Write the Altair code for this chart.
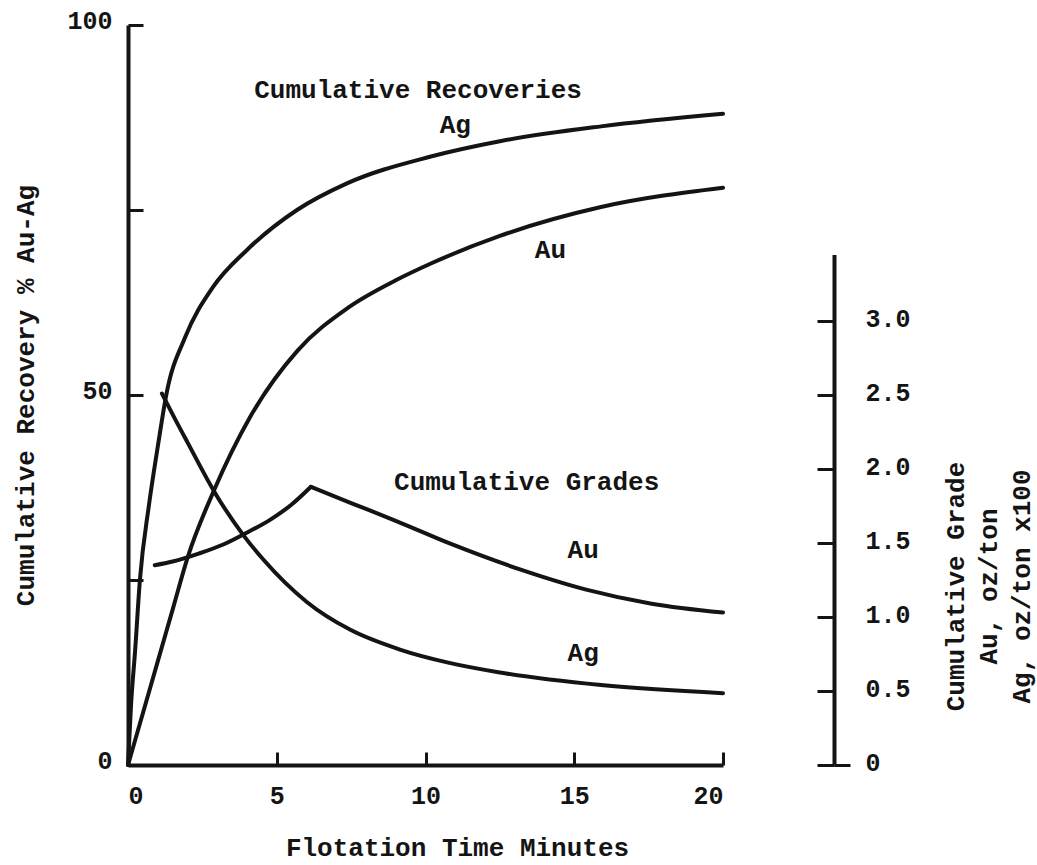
import altair as alt
import pandas as pd

# ---------------- data ----------------
# Cumulative recoveries (% ) vs flotation time (minutes)
ag_rec_t = [0, 0.1, 0.24, 0.4, 0.7, 1.0, 1.3, 1.92, 2.86, 4.0, 5.68, 7.36, 10.15, 12.5, 15.9, 20]
ag_rec_v = [0, 8, 15.5, 25, 35, 43, 50.3, 57.8, 64.6, 69.6, 75, 78.6, 82.2, 84.3, 86.3, 88]

au_rec_t = [0, 0.5, 1.0, 1.5, 2.0, 2.9, 4.1, 5.7, 7.4, 9.0, 10.2, 12.5, 15.9, 20]
au_rec_v = [0, 7, 14, 21, 28, 37.2, 47, 56, 61.8, 65.5, 67.8, 71.5, 75.4, 78]

# Cumulative grades (oz/ton; Ag in oz/ton x100)
au_grade_rise_t = [0.9, 1.5, 2.4, 3.2, 3.9, 4.8, 5.5, 6.15]
au_grade_rise_v = [1.35, 1.375, 1.43, 1.49, 1.56, 1.66, 1.76, 1.88]
au_grade_fall_t = [6.15, 7.5, 9.0, 10.9, 13.2, 15.4, 17.6, 20]
au_grade_fall_v = [1.88, 1.77, 1.65, 1.49, 1.32, 1.185, 1.09, 1.03]

ag_grade_t = [1.14, 1.6, 2.0, 2.92, 3.87, 4.54, 6.02, 7.46, 9.14, 10.8, 12.5, 15.9, 20]
ag_grade_v = [2.51, 2.33, 2.18, 1.84, 1.555, 1.39, 1.10, 0.915, 0.78, 0.69, 0.625, 0.54, 0.485]

# Annotations (placed in time / recovery-% coordinates)
note_labels = ["Cumulative Recoveries", "Ag", "Au", "Cumulative Grades", "Au", "Ag"]
note_t = [9.75, 11.0, 14.2, 13.4, 15.3, 15.3]
note_v = [91.2, 86.5, 69.6, 38.2, 29.1, 15.1]

x_ticks = [0, 5, 10, 15, 20]
rec_labels = [0, 50, 100]
rec_ticks = [25, 50, 75, 100]
grade_ticks = [0, 0.5, 1.0, 1.5, 2.0, 2.5, 3.0]

# ---------------- styling ----------------
FONT = "Liberation Mono"
INK = "#141414"
W, H = 595, 740
PX_PER_GRADE = H / 5.0          # 1 grade unit == 20 % recovery
GRADE_TOP = 3.45

rec_ag = pd.DataFrame({"t": ag_rec_t, "v": ag_rec_v})
rec_au = pd.DataFrame({"t": au_rec_t, "v": au_rec_v})
gr_au = pd.DataFrame({
    "t": au_grade_rise_t + au_grade_fall_t,
    "v": au_grade_rise_v + au_grade_fall_v,
    "seg": ["rise"] * len(au_grade_rise_t) + ["fall"] * len(au_grade_fall_t),
})
gr_ag = pd.DataFrame({"t": ag_grade_t, "v": ag_grade_v})
notes = pd.DataFrame({"label": note_labels, "t": note_t, "v": note_v})

x_scale = alt.Scale(domain=[0, 20], nice=False, zero=False)
rec_scale = alt.Scale(domain=[0, 100], nice=False)
grade_scale = alt.Scale(domain=[0, GRADE_TOP], range=[H, H - GRADE_TOP * PX_PER_GRADE], nice=False)

line_style = dict(interpolate="monotone", strokeWidth=4, color=INK, strokeCap="round", strokeJoin="round")
lab = dict(labelFont=FONT, labelFontSize=25, labelFontWeight="bold", labelColor=INK)
ttl = dict(titleFont=FONT, titleFontSize=26, titleFontWeight="bold", titleColor=INK)

# Layer A: Ag recovery, with bottom x axis (labels) and left y axis (labels)
layer_a = alt.Chart(rec_ag).mark_line(**line_style).encode(
    x=alt.X("t:Q", scale=x_scale, axis=alt.Axis(
        orient="bottom", values=x_ticks, ticks=False, tickSize=0, grid=False,
        domainColor=INK, domainWidth=4, labelPadding=18, **lab,
        title="Flotation Time Minutes", titleX=329, titleY=82,
        titleAlign="center", titleBaseline="middle", **ttl)),
    y=alt.Y("v:Q", scale=rec_scale, axis=alt.Axis(
        orient="left", values=rec_labels, ticks=False, tickSize=0, grid=False,
        domainColor=INK, domainWidth=4, labelPadding=16, labelOffset=-5, **lab,
        title="Cumulative Recovery % Au-Ag", titleX=-103, titleY=370,
        titleAngle=270, titleAlign="center", titleBaseline="middle", **ttl)),
)

# Layer B: Au recovery, carrying the inward-pointing ticks of x and left y axes
layer_b = alt.Chart(rec_au).mark_line(**line_style).encode(
    x=alt.X("t:Q", scale=x_scale, axis=alt.Axis(
        orient="top", offset=-H, values=[5, 10, 15, 20], ticks=True, tickSize=13,
        tickWidth=3, tickColor=INK, labels=False, domain=False, grid=False, title="")),
    y=alt.Y("v:Q", scale=rec_scale, axis=alt.Axis(
        orient="right", offset=-W, values=rec_ticks, ticks=True, tickSize=15,
        tickWidth=3, tickColor=INK, labels=False, domain=False, grid=False, title="")),
)

# Layer C: Au grade with the right-hand grade axis (labels and line)
layer_c = alt.Chart(gr_au).mark_line(**line_style).encode(
    x=alt.X("t:Q", scale=x_scale, axis=None),
    y=alt.Y("v:Q", scale=grade_scale, axis=alt.Axis(
        orient="right", offset=111, values=grade_ticks, ticks=True, tickSize=16,
        tickWidth=3, tickColor=INK,
        tickOpacity={"condition": {"test": "datum.value === 0", "value": 1}, "value": 0},
        grid=False, domainColor=INK, domainWidth=4, labelPadding=15, labelOffset=-3,
        labelExpr="datum.value === 0 ? '0' : format(datum.value, '.1f')", **lab,
        title=["Cumulative Grade", "Au, oz/ton", "Ag, oz/ton x100"],
        titleX=121, titleY=561, titleAngle=270, titleAlign="center",
        titleBaseline="middle", titleLineHeight=33, **ttl)),
    detail="seg:N",
)

# Layer D: Ag grade, carrying the inward-pointing ticks of the grade axis
layer_d = alt.Chart(gr_ag).mark_line(**line_style).encode(
    x=alt.X("t:Q", scale=x_scale, axis=None),
    y=alt.Y("v:Q", scale=grade_scale, axis=alt.Axis(
        orient="left", offset=-(W + 111), values=grade_ticks, ticks=True, tickSize=17,
        tickWidth=3, tickColor=INK, labels=False, domain=False, grid=False, title="")),
)

# Layer E: text annotations
layer_e = alt.Chart(notes).mark_text(
    font=FONT, fontSize=26, fontWeight="bold", color=INK, align="center", baseline="middle"
).encode(
    x=alt.X("t:Q", scale=x_scale, axis=None),
    y=alt.Y("v:Q", scale=rec_scale, axis=None),
    text="label:N",
)

chart = alt.layer(layer_a, layer_b, layer_c, layer_d, layer_e).resolve_scale(
    y="independent"
).resolve_axis(
    x="independent", y="independent"
).properties(
    width=W, height=H,
    autosize=alt.AutoSizeParams(type="none"),
    padding={"left": 128, "top": 25, "right": 314, "bottom": 100},
    background="white",
).configure_view(strokeWidth=0)

chart.save("out.html", embed_options={"renderer": "svg", "actions": False})
